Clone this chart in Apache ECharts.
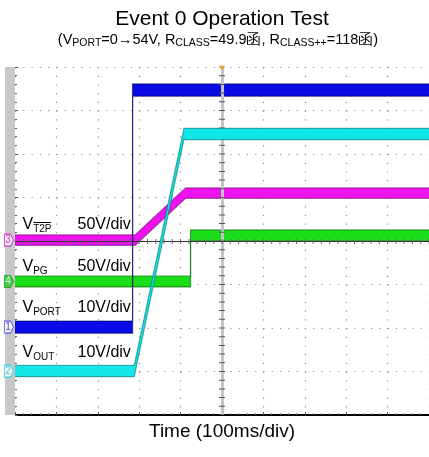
<!DOCTYPE html>
<html>
<head>
<meta charset="utf-8">
<script src="https://cdn.jsdelivr.net/npm/echarts@6/dist/echarts.min.js"></script>
<style>
  html, body { margin: 0; padding: 0; background: #fff; }
  #scope { width: 429px; height: 457px; }
</style>
</head>
<body>
<div id="scope"></div>
<script>
// ---- Acquisition settings ----
// Horizontal: 100 ms per division, trigger at 0 ms, 10 divisions shown
const timeMin = -500;
const timeMax = 500;
const timeStep = 100;

// Channel order: CH1 VPORT, CH2 VOUT, CH3 VT2P, CH4 VPG
const channelNumbers = ['1', '2', '3', '4'];
const voltsPerDiv = [10, 10, 50, 50];
// Ground reference of each channel, in divisions from screen centre
const groundDiv = [-1.98, -2.99, 0.02, -0.93];

// ---- Captured waveforms: time in ms, level in V ----
const vportTime  = [-500, -216, -216, 500];
const vportVolts = [0, 0, 54.5, 54.5];

const voutTime   = [-500, -212, -92, 500];
const voutVolts  = [0, 0, 54.5, 54.5];

const vt2pTime   = [-500, -210, -88, 500];
const vt2pVolts  = [0, 0, 54, 54];

const vpgTime    = [-500, -76, -76, 500];
const vpgVolts   = [0, 0, 53, 53];

// ---- Styling ----
const FONT = '"Liberation Sans", Arial, Helvetica, sans-serif';
const traceFill = ['#0a0ae6', '#12e6e6', '#ee12ee', '#1ade1a'];
const traceEdge = ['#000070', '#007878', '#780078', '#006800'];
const bandHalf  = [0.14, 0.13, 0.12, 0.125];   // trace thickness (noise band), divisions
const traceZ    = [4, 6, 3, 2];

function toDiv(ch, volts) {
  return volts.map(v => groundDiv[ch] + v / voltsPerDiv[ch]);
}

// A noisy scope trace drawn as a band around the signal level
function traceSeries(ch, times, volts) {
  const levels = toDiv(ch, volts);
  const pts = times.map((t, i) => [t, levels[i]]);
  const h = bandHalf[ch];
  return {
    type: 'custom',
    name: 'CH' + channelNumbers[ch],
    data: pts,
    clip: true,
    z: traceZ[ch],
    silent: true,
    renderItem(params, api) {
      if (params.dataIndex !== 0) return null;
      const up = pts.map(p => api.coord([p[0], p[1] + h]));
      const dn = pts.map(p => api.coord([p[0], p[1] - h]));
      return {
        type: 'group',
        children: [
          { type: 'polygon', shape: { points: up.concat(dn.slice().reverse()) },
            style: { fill: traceFill[ch] } },
          { type: 'polyline', shape: { points: up },
            style: { stroke: traceEdge[ch], lineWidth: 1.2, fill: null, opacity: 0.6 } },
          { type: 'polyline', shape: { points: dn },
            style: { stroke: traceEdge[ch], lineWidth: 1.2, fill: null, opacity: 0.6 } }
        ]
      };
    }
  };
}

// Ground markers on the left edge of the screen
const markerFill   = ['#ffffff', '#ffffff', '#ffffff', '#22cc22'];
const markerBorder = ['#3a3ae0', '#10c8d8', '#d010d0', '#119911'];
const markerText   = ['#2020d0', '#10b8c8', '#c010c0', '#ffffff'];

const markerSeries = {
  type: 'scatter',
  z: 10,
  silent: true,
  data: channelNumbers.map((n, ch) => ({
    value: [timeMin, groundDiv[ch]],
    itemStyle: { color: markerFill[ch], borderColor: markerBorder[ch], borderWidth: 1 },
    label: { color: markerText[ch] }
  })),
  symbol: 'path://M0,0L6,0L9,5L6,10L0,10Z',
  symbolSize: [9, 12],
  symbolOffset: [-6, 0],
  label: {
    show: true,
    position: 'inside',
    formatter: p => channelNumbers[p.dataIndex],
    fontSize: 10,
    fontFamily: FONT,
    offset: [-1, 0]
  },
  clip: false
};

// Trigger position marker at the top of the screen
const triggerSeries = {
  type: 'scatter',
  z: 10,
  silent: true,
  data: [[0, 4]],
  symbol: 'triangle',
  symbolRotate: 180,
  symbolSize: [6, 5],
  symbolOffset: [0, 1],
  itemStyle: { color: '#f0a020' },
  clip: false
};

// Centre graticule axes with their minor tick marks
const centreAxes = {
  type: 'line',
  data: [],
  z: 1,
  silent: true,
  markLine: {
    silent: true,
    symbol: ['none', 'none'],
    label: { show: false },
    animation: false,
    data: [
      { xAxis: 0, lineStyle: { color: '#c4c4c4', width: 3, type: 'solid' } },
      { xAxis: 0, lineStyle: { color: '#555', width: 6, type: [1, 7.7], dashOffset: 0.5 } },
      { yAxis: 0, lineStyle: { color: '#333', width: 1, type: 'solid' } },
      { yAxis: 0, lineStyle: { color: '#666', width: 5, type: [1, 7.28], dashOffset: 0.5 } }
    ]
  }
};

const dotted = (gap) => ({ color: '#8c8c8c', width: 1.2, type: [1.2, gap] });

const labelRich = {
  m: { fontSize: 16, fontFamily: FONT, color: '#000', lineHeight: 20, verticalAlign: 'middle' },
  s: { fontSize: 10, fontFamily: FONT, color: '#000', lineHeight: 12, verticalAlign: 'bottom' }
};

function channelLabel(name, sub, scale, y) {
  return [
    { type: 'text', x: 22.5, y: y, z: 20,
      style: { text: '{m|' + name + '}{s|' + sub + '}', rich: labelRich,
               textAlign: 'left', textVerticalAlign: 'middle' } },
    { type: 'text', x: 77.5, y: y, z: 20,
      style: { text: scale, font: '16px ' + FONT, fill: '#000',
               textAlign: 'left', textVerticalAlign: 'middle' } }
  ];
}

const subRich = {
  m: { fontSize: 14.5, fontFamily: FONT, color: '#000', lineHeight: 18, verticalAlign: 'middle' },
  s: { fontSize: 10.5, fontFamily: FONT, color: '#000', lineHeight: 12, verticalAlign: 'bottom' }
};

const chart = echarts.init(document.getElementById('scope'), null, { renderer: 'canvas' });

chart.setOption({
  animation: false,
  backgroundColor: '#ffffff',
  grid: { left: 15, top: 67, width: 414, height: 348 },
  xAxis: {
    type: 'value',
    min: timeMin, max: timeMax, interval: timeStep,
    position: 'bottom',
    axisLine: { show: true, onZero: false, lineStyle: { color: '#000', width: 2, cap: 'butt' } },
    axisTick: { show: true, inside: true, length: 3, lineStyle: { color: '#555' } },
    minorTick: { show: true, splitNumber: 5, length: 2, lineStyle: { color: '#777' } },
    axisLabel: { show: false },
    splitLine: { show: true, lineStyle: dotted(7.5) },
    name: 'Time (100ms/div)',
    nameLocation: 'middle',
    nameGap: 7,
    nameTextStyle: { fontSize: 19, fontFamily: FONT, color: '#000', verticalAlign: 'top' }
  },
  yAxis: [
    {
      type: 'value', min: -4, max: 4, interval: 1,
      position: 'left', offset: 5,
      axisLine: { show: true, onZero: false, lineStyle: { color: '#c8c8c8', width: 10, cap: 'butt' } },
      axisTick: { show: false },
      axisLabel: { show: false },
      splitLine: { show: true, lineStyle: dotted(7.08) }
    },
    {
      type: 'value', min: -4, max: 4, interval: 1,
      position: 'left', offset: 0,
      axisLine: { show: false, onZero: false },
      axisTick: { show: true, inside: true, length: 3, lineStyle: { color: '#555' } },
      minorTick: { show: true, splitNumber: 5, length: 2, lineStyle: { color: '#666' } },
      axisLabel: { show: false },
      splitLine: { show: false }
    }
  ],
  series: [
    centreAxes,
    traceSeries(0, vportTime, vportVolts),
    traceSeries(1, voutTime, voutVolts),
    traceSeries(2, vt2pTime, vt2pVolts),
    traceSeries(3, vpgTime, vpgVolts),
    markerSeries,
    triggerSeries
  ],
  graphic: [
    { type: 'text', x: 222, y: 19,
      style: { text: 'Event 0 Operation Test', font: '21px ' + FONT, fill: '#000',
               textAlign: 'center', textVerticalAlign: 'middle' } },
    { type: 'text', x: 218, y: 40,
      style: { text: '{m|(V}{s|PORT}{m|=0→54V, R}{s|CLASS}{m|=49.9函, R}{s|CLASS++}{m|=118函)}',
               rich: subRich, textAlign: 'center', textVerticalAlign: 'middle' } },
    ...channelLabel('V', 'T2P', '50V/div', 224.7),
    // bar over the T2P subscript (active-low signal)
    { type: 'line', z: 20, shape: { x1: 33.5, y1: 222.5, x2: 51, y2: 222.5 },
      style: { stroke: '#000', lineWidth: 1 } },
    ...channelLabel('V', 'PG', '50V/div', 266.7),
    ...channelLabel('V', 'PORT', '10V/div', 307.5),
    ...channelLabel('V', 'OUT', '10V/div', 352.5)
  ]
});
</script>
</body>
</html>
